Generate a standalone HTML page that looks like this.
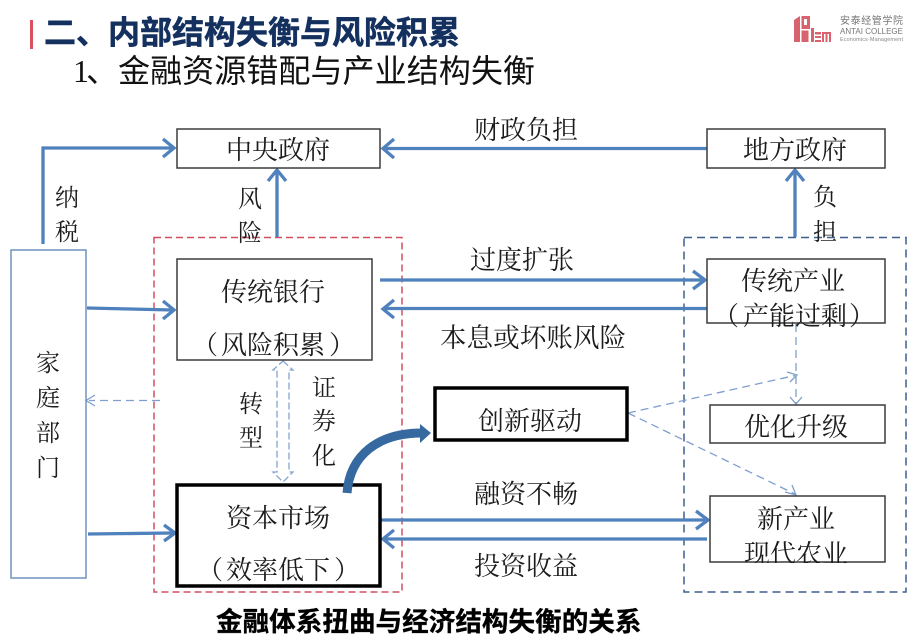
<!DOCTYPE html>
<html lang="zh">
<head>
<meta charset="utf-8">
<title>金融体系扭曲与经济结构失衡的关系</title>
<style>
html,body{margin:0;padding:0;background:#fff;}
body{width:909px;height:640px;overflow:hidden;}
svg{display:block;filter:blur(.35px);}
text{font-family:"Liberation Serif","Noto Serif CJK SC",serif;fill:#1c1c1c;}
.l{font-size:26px;text-anchor:middle;}
.s{font-size:24px;text-anchor:middle;}
.p{font-size:26px;}
.box{fill:none;stroke:#3c3c3c;stroke-width:1.5;}
.heavy{fill:none;stroke:#000;stroke-width:3.5;}
.ln{fill:none;stroke:#4f81bd;stroke-width:3.3;}
.hd{fill:none;stroke:#4f81bd;stroke-width:3.3;}
.dl{fill:none;stroke:#7f9fcf;stroke-width:1.3;stroke-dasharray:8 5;}
.dh{fill:none;stroke:#7f9fcf;stroke-width:1.3;}
</style>
</head>
<body>
<svg width="909" height="640" viewBox="0 0 909 640" xmlns="http://www.w3.org/2000/svg">
<defs><clipPath id="c1"><rect x="700" y="530" width="190" height="33"/></clipPath></defs>

<!-- header -->
<rect x="30" y="20" width="3" height="29" fill="#d9505f"/>
<text x="44" y="43.500" font-size="32" style="fill:#14305f;stroke:#14305f;stroke-width:.5;font-weight:700;font-family:'Liberation Sans','Noto Sans CJK SC',sans-serif">二、内部结构失衡与风险积累</text>
<text x="73" y="82" font-size="32" style="font-family:'Liberation Serif',serif;fill:#111">1</text>
<text x="86" y="82" font-size="32" style="font-family:'Noto Sans CJK SC',sans-serif;fill:#111">、</text>
<text x="118" y="82" font-size="32.100" style="font-family:'Noto Sans CJK SC',sans-serif;fill:#111">金融资源错配与产业结构失衡</text>

<!-- logo -->
<g fill="#d8636f">
<path d="M794 42V20l6-4v26zM801.500 16h8.500v13h-8.500zM801.500 30.500h7v11.500h-7z"/>
<path d="M811 28h3v14h-3zM815 32h6v2.500h-6zM815 36h6v2h-6zM815 40h6v2h-6zM822 32h9v10h-2v-8h-1.500v8h-2v-8H824v8h-2z"/>
</g>
<rect x="804" y="19" width="3" height="6" fill="#fff"/>
<text x="840" y="24" font-size="10" textLength="63" style="font-family:'Liberation Sans','Noto Sans CJK SC',sans-serif;fill:#777">安泰经管学院</text>
<text x="840" y="34" font-size="8" textLength="63" style="font-family:'Liberation Sans',sans-serif;fill:#777">ANTAI COLLEGE</text>
<text x="840" y="41" font-size="5.500" textLength="63" style="font-family:'Liberation Sans',sans-serif;fill:#888">Economics·Management</text>

<!-- dashed containers -->
<rect x="154" y="237.500" width="248" height="354.500" fill="none" stroke="#d0505f" stroke-width="1.500" stroke-dasharray="7 4"/>
<rect x="684" y="237.500" width="222" height="354.500" fill="none" stroke="#3f5f8f" stroke-width="1.500" stroke-dasharray="8 5"/>

<!-- solid arrows -->
<path class="ln" d="M43 244V148H172"/><path class="hd" d="M163 139l11 9-11 9"/>
<path class="ln" d="M277 237V172"/><path class="hd" d="M268 181l9-11 9 11"/>
<path class="ln" d="M707 148.500H385"/><path class="hd" d="M394 139l-11 9.500 11 9.500"/>
<path class="ln" d="M795 237V172"/><path class="hd" d="M786 181l9-11 9 11"/>
<path class="ln" d="M380 280H702"/><path class="hd" d="M693 271l12 9-12 9"/>
<path class="ln" d="M707 308.500H385"/><path class="hd" d="M394 300l-11 9 11 9"/>
<path class="ln" d="M87 308L172 310"/><path class="hd" d="M163 301l11 9-11 9"/>
<path class="ln" d="M88 534L173 533"/><path class="hd" d="M164 525l11 8-11 8"/>
<path class="ln" d="M380 520H705"/><path class="hd" d="M696 511l12 9-12 9"/>
<path class="ln" d="M707 539H385"/><path class="hd" d="M394 530l-11 9 11 9"/>

<!-- dashed connectors -->
<path class="dl" d="M160 400.500H89"/><path class="dh" d="M95 395l-9 5.500 9 5.500"/>
<path d="M283 361l10 9h-4V472h4l-10 10-10-10h4V370h-4z" fill="none" stroke="#85a5cf" stroke-width="1.300" stroke-dasharray="7 3"/>
<path class="dl" d="M796 324V403"/><path class="dh" d="M790 397l6 7 6-7"/>
<path class="dl" d="M628 413L795 375.500"/><path class="dh" d="M787 372l10 3-7 7"/>
<path class="dl" d="M628 413L795 494"/><path class="dh" d="M785 492l11 3-4-10"/>

<!-- boxes -->
<rect x="177" y="129" width="203" height="39" class="box"/>
<rect x="707" y="129" width="178" height="39" class="box"/>
<rect x="11" y="250" width="75" height="328" fill="none" stroke="#6f92bd" stroke-width="1.500"/>
<rect x="177" y="259" width="195" height="101" class="box"/>
<rect x="707" y="259" width="178" height="64" class="box"/>
<rect x="710" y="405" width="175" height="38" class="box"/>
<rect x="710" y="496" width="175" height="66" class="box"/>
<rect x="435" y="388" width="192" height="52" class="heavy"/>
<rect x="177" y="485" width="203" height="101" class="heavy"/>

<!-- curved thick arrow -->
<path d="M347 493C350 455 378 433 422 433" fill="none" stroke="#35699f" stroke-width="9"/>
<path d="M420 424L431 433 420 443z" fill="#35699f"/>

<!-- labels -->
<text class="l" x="278" y="159">中央政府</text>
<text class="l" x="526" y="139">财政负担</text>
<text class="l" x="795" y="159">地方政府</text>
<text class="s" x="67" y="206">纳</text>
<text class="s" x="67" y="240">税</text>
<text class="s" x="250" y="207">风</text>
<text class="s" x="250" y="241">险</text>
<text class="s" x="825" y="205">负</text>
<text class="s" x="825" y="240">担</text>
<text class="l" x="273" y="301">传统银行</text>
<text class="l" x="273" y="354">风险积累</text>
<text class="p" x="192" y="354">（</text>
<text class="p" x="329" y="354">）</text>
<text class="l" x="522" y="269">过度扩张</text>
<text class="l" x="533" y="347" style="font-size:26.600px">本息或坏账风险</text>
<text class="l" x="793" y="290">传统产业</text>
<text class="l" x="795" y="325">产能过剩</text>
<text class="p" x="713" y="325">（</text>
<text class="p" x="849" y="325">）</text>
<text class="l" x="796" y="436">优化升级</text>
<text class="l" x="530" y="430">创新驱动</text>
<text class="l" x="526" y="503">融资不畅</text>
<text class="l" x="526" y="575">投资收益</text>
<text class="l" x="796" y="528">新产业</text>
<text class="l" x="796" y="563" clip-path="url(#c1)">现代农业</text>
<text class="l" x="278" y="579">效率低下</text>
<text class="l" x="278" y="527">资本市场</text>
<text class="p" x="197" y="579">（</text>
<text class="p" x="334" y="579">）</text>
<text class="s" x="48" y="371">家</text>
<text class="s" x="48" y="406">庭</text>
<text class="s" x="48" y="441">部</text>
<text class="s" x="48" y="476">门</text>
<text class="s" x="251" y="412">转</text>
<text class="s" x="251" y="446">型</text>
<text class="s" x="324" y="396">证</text>
<text class="s" x="324" y="429">券</text>
<text class="s" x="324" y="464">化</text>

<text x="216" y="631" font-size="26.600" style="font-family:'Liberation Sans','Noto Sans CJK SC',sans-serif;font-weight:700;fill:#000;stroke:#000;stroke-width:.35">金融体系扭曲与经济结构失衡的关系</text>
</svg>
</body>
</html>
